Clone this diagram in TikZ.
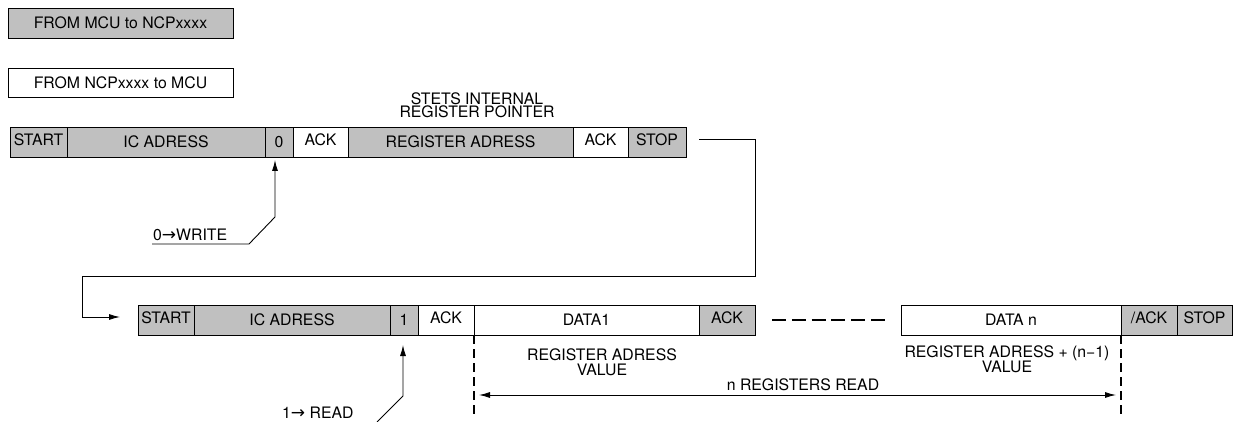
\documentclass[tikz,border=0pt]{standalone}
\usepackage{fontspec}
\setmainfont{TeX Gyre Heros}
\newfontfamily\dv{DejaVu Sans}
\usetikzlibrary{arrows.meta,calc}
\definecolor{cellgray}{RGB}{192,192,192}
\begin{document}
\begin{tikzpicture}[x=1pt,y=-1pt,
  font=\fontsize{15.8}{15}\selectfont,
  cell/.style={draw=black, line width=0.9pt, minimum height=30pt, inner sep=0pt, outer sep=0pt,
    anchor=north west, text height=11.3pt, text depth=0pt},
  hi/.style={text depth=5pt},
  g/.style={fill=cellgray},
  w/.style={fill=white},
  conn/.style={draw=black, line width=0.9pt},
  tip/.style={-{Latex[length=11pt,width=6pt]}},
  vdash/.style={draw=black, line width=2pt, dash pattern=on 9pt off 5pt},
  hdash/.style={draw=black, line width=2pt, dash pattern=on 14pt off 5.8pt},
  note/.style={inner sep=0pt, align=center}
]
\useasboundingbox (0,0) rectangle (1236,422);
\fill[white] (0,0) rectangle (1236,422);

% legend
\node[cell, g, minimum width=225pt, minimum height=30pt] (leg1) at (8,8) {FROM MCU to NCPxxxx};
\node[cell, w, minimum width=225pt, minimum height=29pt] (leg2) at (8,68) {FROM NCPxxxx to MCU};

% title
\node[note, font=\fontsize{15.8}{13.5}\selectfont, anchor=south] (title) at (477,118) {STETS INTERNAL\\REGISTER POINTER};

% row 1
\node[cell, g, hi, minimum width=57pt]  (s1)   at (10,127)  {START};
\node[cell, g, minimum width=198pt]     (ic1)  at (67,127)  {IC ADRESS};
\node[cell, g, minimum width=28pt]      (b0)   at (265,127) {0};
\node[cell, w, hi, minimum width=55pt]  (a1)   at (293,127) {ACK};
\node[cell, g, minimum width=225pt]     (reg)  at (348,127) {REGISTER ADRESS};
\node[cell, w, hi, minimum width=55pt]  (a2)   at (573,127) {ACK};
\node[cell, g, hi, minimum width=58pt]  (p1)   at (628,127) {STOP};

% row 2
\node[cell, g, hi, minimum width=56pt]  (s2)   at (138,305) {START};
\node[cell, g, minimum width=196pt]     (ic2)  at (194,305) {IC ADRESS};
\node[cell, g, minimum width=28pt]      (b1)   at (390,305) {1};
\node[cell, w, hi, minimum width=56pt]  (a3)   at (418,305) {ACK};
\node[cell, w, minimum width=225pt]     (d1)   at (474,305) {DATA1};
\node[cell, g, hi, minimum width=56pt]  (a4)   at (699,305) {ACK};
\node[cell, w, minimum width=220pt]     (dn)   at (901,305) {DATA n};
\node[cell, g, hi, minimum width=56pt]  (na)   at (1121,305) {/ACK};
\node[cell, g, hi, minimum width=55pt]  (p2)   at (1177,305) {STOP};

% loop from row 1 to row 2
\coordinate (lpA) at (755,276);
\coordinate (lpB) at (82,276);
\draw[conn, tip, shorten <=13pt, shorten >=18pt]
  ([yshift=3pt]p1.east) -| (lpA) -- (lpB) |- ([yshift=3pt]s2.west);

% 0 -> WRITE callout
\node[inner sep=0pt, anchor=base west] (wlab) at (153,240) {0{\dv\fontsize{17}{17}\selectfont →}WRITE};
\coordinate (wa) at (152,244);
\coordinate (wb) at (249,244);
\coordinate (wc) at (275,217);
\draw[conn, tip, shorten >=3pt] (wa) -- (wb) -- (wc) -- ([xshift=-4pt]b0.south);

% 1 -> READ callout
\node[inner sep=0pt, anchor=base west] (rlab) at (282,418) {1{\dv\fontsize{17}{17}\selectfont →} READ};
\coordinate (ra) at (377,422);
\coordinate (rb) at (403,396);
\draw[conn, tip, shorten >=10pt] (ra) -- (rb) -- ([xshift=-1pt]b1.south);

% dashed continuation
\draw[hdash, shorten <=17pt, shorten >=16pt] (a4.east) -- (dn.west);

% vertical markers
\draw[vdash] (d1.south west) -- ++(0,79) coordinate (v1);
\draw[vdash] (dn.south east) -- ++(0,79) coordinate (v2);

% n registers read
\draw[conn, {Latex[length=11pt,width=6pt]}-{Latex[length=11pt,width=6pt]}, shorten <=5pt, shorten >=5pt]
  ($(d1.south west)+(0,60)$) -- ($(dn.south east)+(0,60)$);
\node[inner sep=0pt, anchor=base] (nreg) at (803,390) {n REGISTERS READ};

% value notes
\node[note, anchor=north] (val1) at (602,348) {REGISTER ADRESS\\VALUE};
\node[note, anchor=north] (valn) at (1007,345) {REGISTER ADRESS + (n−1)\\VALUE};
\end{tikzpicture}
\end{document}
